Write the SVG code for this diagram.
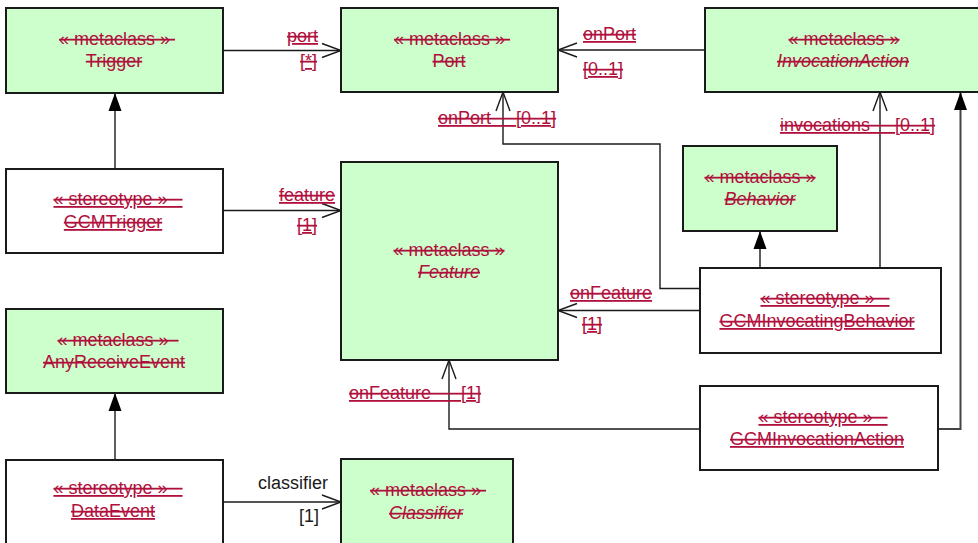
<svg xmlns="http://www.w3.org/2000/svg" width="978" height="543" viewBox="0 0 978 543">
<style>
.box{stroke:#1a1a1a;stroke-width:2}
.meta{fill:#ccffcc}
.stereo{fill:#ffffff}
text{font-family:"Liberation Sans",Arial,sans-serif;font-size:18px;fill:#b0103c}
.c{text-anchor:middle}
.mt{text-decoration:line-through}
.st{text-decoration:underline line-through}
.it{font-style:italic}
.plain{fill:#1a1a1a}
.conn path{fill:none;stroke:#1a1a1a;stroke-width:1.4}
</style>
<defs>
<marker id="open" markerUnits="userSpaceOnUse" markerWidth="22" markerHeight="16" refX="19" refY="7" orient="auto" overflow="visible">
<path d="M0,0 L19,7 L0,14" fill="none" stroke="#1a1a1a" stroke-width="1.4"/>
</marker>
<marker id="tri" markerUnits="userSpaceOnUse" markerWidth="20" markerHeight="14" refX="18" refY="6.5" orient="auto" overflow="visible">
<path d="M0,0 L18,6.5 L0,13 Z" fill="#000"/>
</marker>
</defs>
<g class="conn">
<path d="M223,50.5 H341" marker-end="url(#open)"/>
<path d="M115,169 V93" marker-end="url(#tri)"/>
<path d="M223,210.5 H341" marker-end="url(#open)"/>
<path d="M705,50 H558" marker-end="url(#open)"/>
<path d="M700,288.5 H660 V144 H503 V92" marker-end="url(#open)"/>
<path d="M760,268 V231" marker-end="url(#tri)"/>
<path d="M880,268 V92" marker-end="url(#open)"/>
<path d="M700,310.5 H558" marker-end="url(#open)"/>
<path d="M700,429 H449 V360" marker-end="url(#open)"/>
<path d="M938,429 H960.5 V92" marker-end="url(#tri)" style="stroke:#444;stroke-width:2"/>
<path d="M115,460 V393" marker-end="url(#tri)"/>
<path d="M223,502 H341" marker-end="url(#open)"/>
</g>
<g id="labels">
<text class="st" x="287" y="42">port</text>
<text class="st" x="300" y="67">[*]</text>
<text class="st" x="279" y="201">feature</text>
<text class="st" x="297" y="231">[1]</text>
<text class="st" x="583" y="40">onPort</text>
<text class="st" x="583" y="75">[0..1]</text>
<text class="st" x="438" y="124" xml:space="preserve">onPort     [0..1]</text>
<text class="st" x="780" y="131" xml:space="preserve">invocations     [0..1]</text>
<text class="st" x="570" y="299">onFeature</text>
<text class="st" x="582" y="330">[1]</text>
<text class="st" x="349" y="399" xml:space="preserve">onFeature      [1]</text>
<text class="plain" x="258" y="489">classifier</text>
<text class="plain" x="299" y="522">[1]</text>
</g>
<g id="Trigger">
<rect class="box meta" x="6" y="8" width="217" height="85"/>
<text class="c mt" x="117" y="45" xml:space="preserve">« metaclass » </text>
<text class="c mt" x="114" y="67">Trigger</text>
</g>
<g id="Port">
<rect class="box meta" x="341" y="8" width="217" height="84"/>
<text class="c mt" x="452" y="45" xml:space="preserve">« metaclass » </text>
<text class="c mt" x="449" y="67">Port</text>
</g>
<g id="InvocationAction">
<rect class="box meta" x="705" y="8" width="280" height="84"/>
<text class="c mt" x="844" y="45">« metaclass »</text>
<text class="c mt it" x="843" y="67">InvocationAction</text>
</g>
<g id="GCMTrigger">
<rect class="box stereo" x="6" y="169" width="217" height="84"/>
<text class="c st" x="118" y="205" xml:space="preserve">« stereotype »   </text>
<text class="c st" x="113" y="228">GCMTrigger</text>
</g>
<g id="Feature">
<rect class="box meta" x="341" y="162" width="217" height="198"/>
<text class="c mt" x="449" y="256">« metaclass »</text>
<text class="c mt it" x="449" y="278">Feature</text>
</g>
<g id="Behavior">
<rect class="box meta" x="683" y="146" width="154" height="85"/>
<text class="c mt" x="760" y="183">« metaclass »</text>
<text class="c mt it" x="760" y="205">Behavior</text>
</g>
<g id="GCMInvocatingBehavior">
<rect class="box stereo" x="700" y="268" width="241" height="85"/>
<text class="c st" x="825" y="304" xml:space="preserve">« stereotype »   </text>
<text class="c st" x="817" y="327">GCMInvocatingBehavior</text>
</g>
<g id="AnyReceiveEvent">
<rect class="box meta" x="6" y="309" width="217" height="84"/>
<text class="c mt" x="118" y="346" xml:space="preserve">« metaclass »  </text>
<text class="c mt" x="114" y="368">AnyReceiveEvent</text>
</g>
<g id="DataEvent">
<rect class="box stereo" x="6" y="460" width="217" height="90"/>
<text class="c st" x="118" y="494" xml:space="preserve">« stereotype »   </text>
<text class="c st" x="113" y="517">DataEvent</text>
</g>
<g id="GCMInvocationAction">
<rect class="box stereo" x="700" y="386" width="238" height="84"/>
<text class="c st" x="823" y="423" xml:space="preserve">« stereotype »   </text>
<text class="c st" x="817" y="445">GCMInvocationAction</text>
</g>
<g id="Classifier">
<rect class="box meta" x="341" y="459" width="172" height="90"/>
<text class="c mt" x="428" y="496" xml:space="preserve">« metaclass » </text>
<text class="c mt it" x="426" y="519">Classifier</text>
</g>
</svg>
